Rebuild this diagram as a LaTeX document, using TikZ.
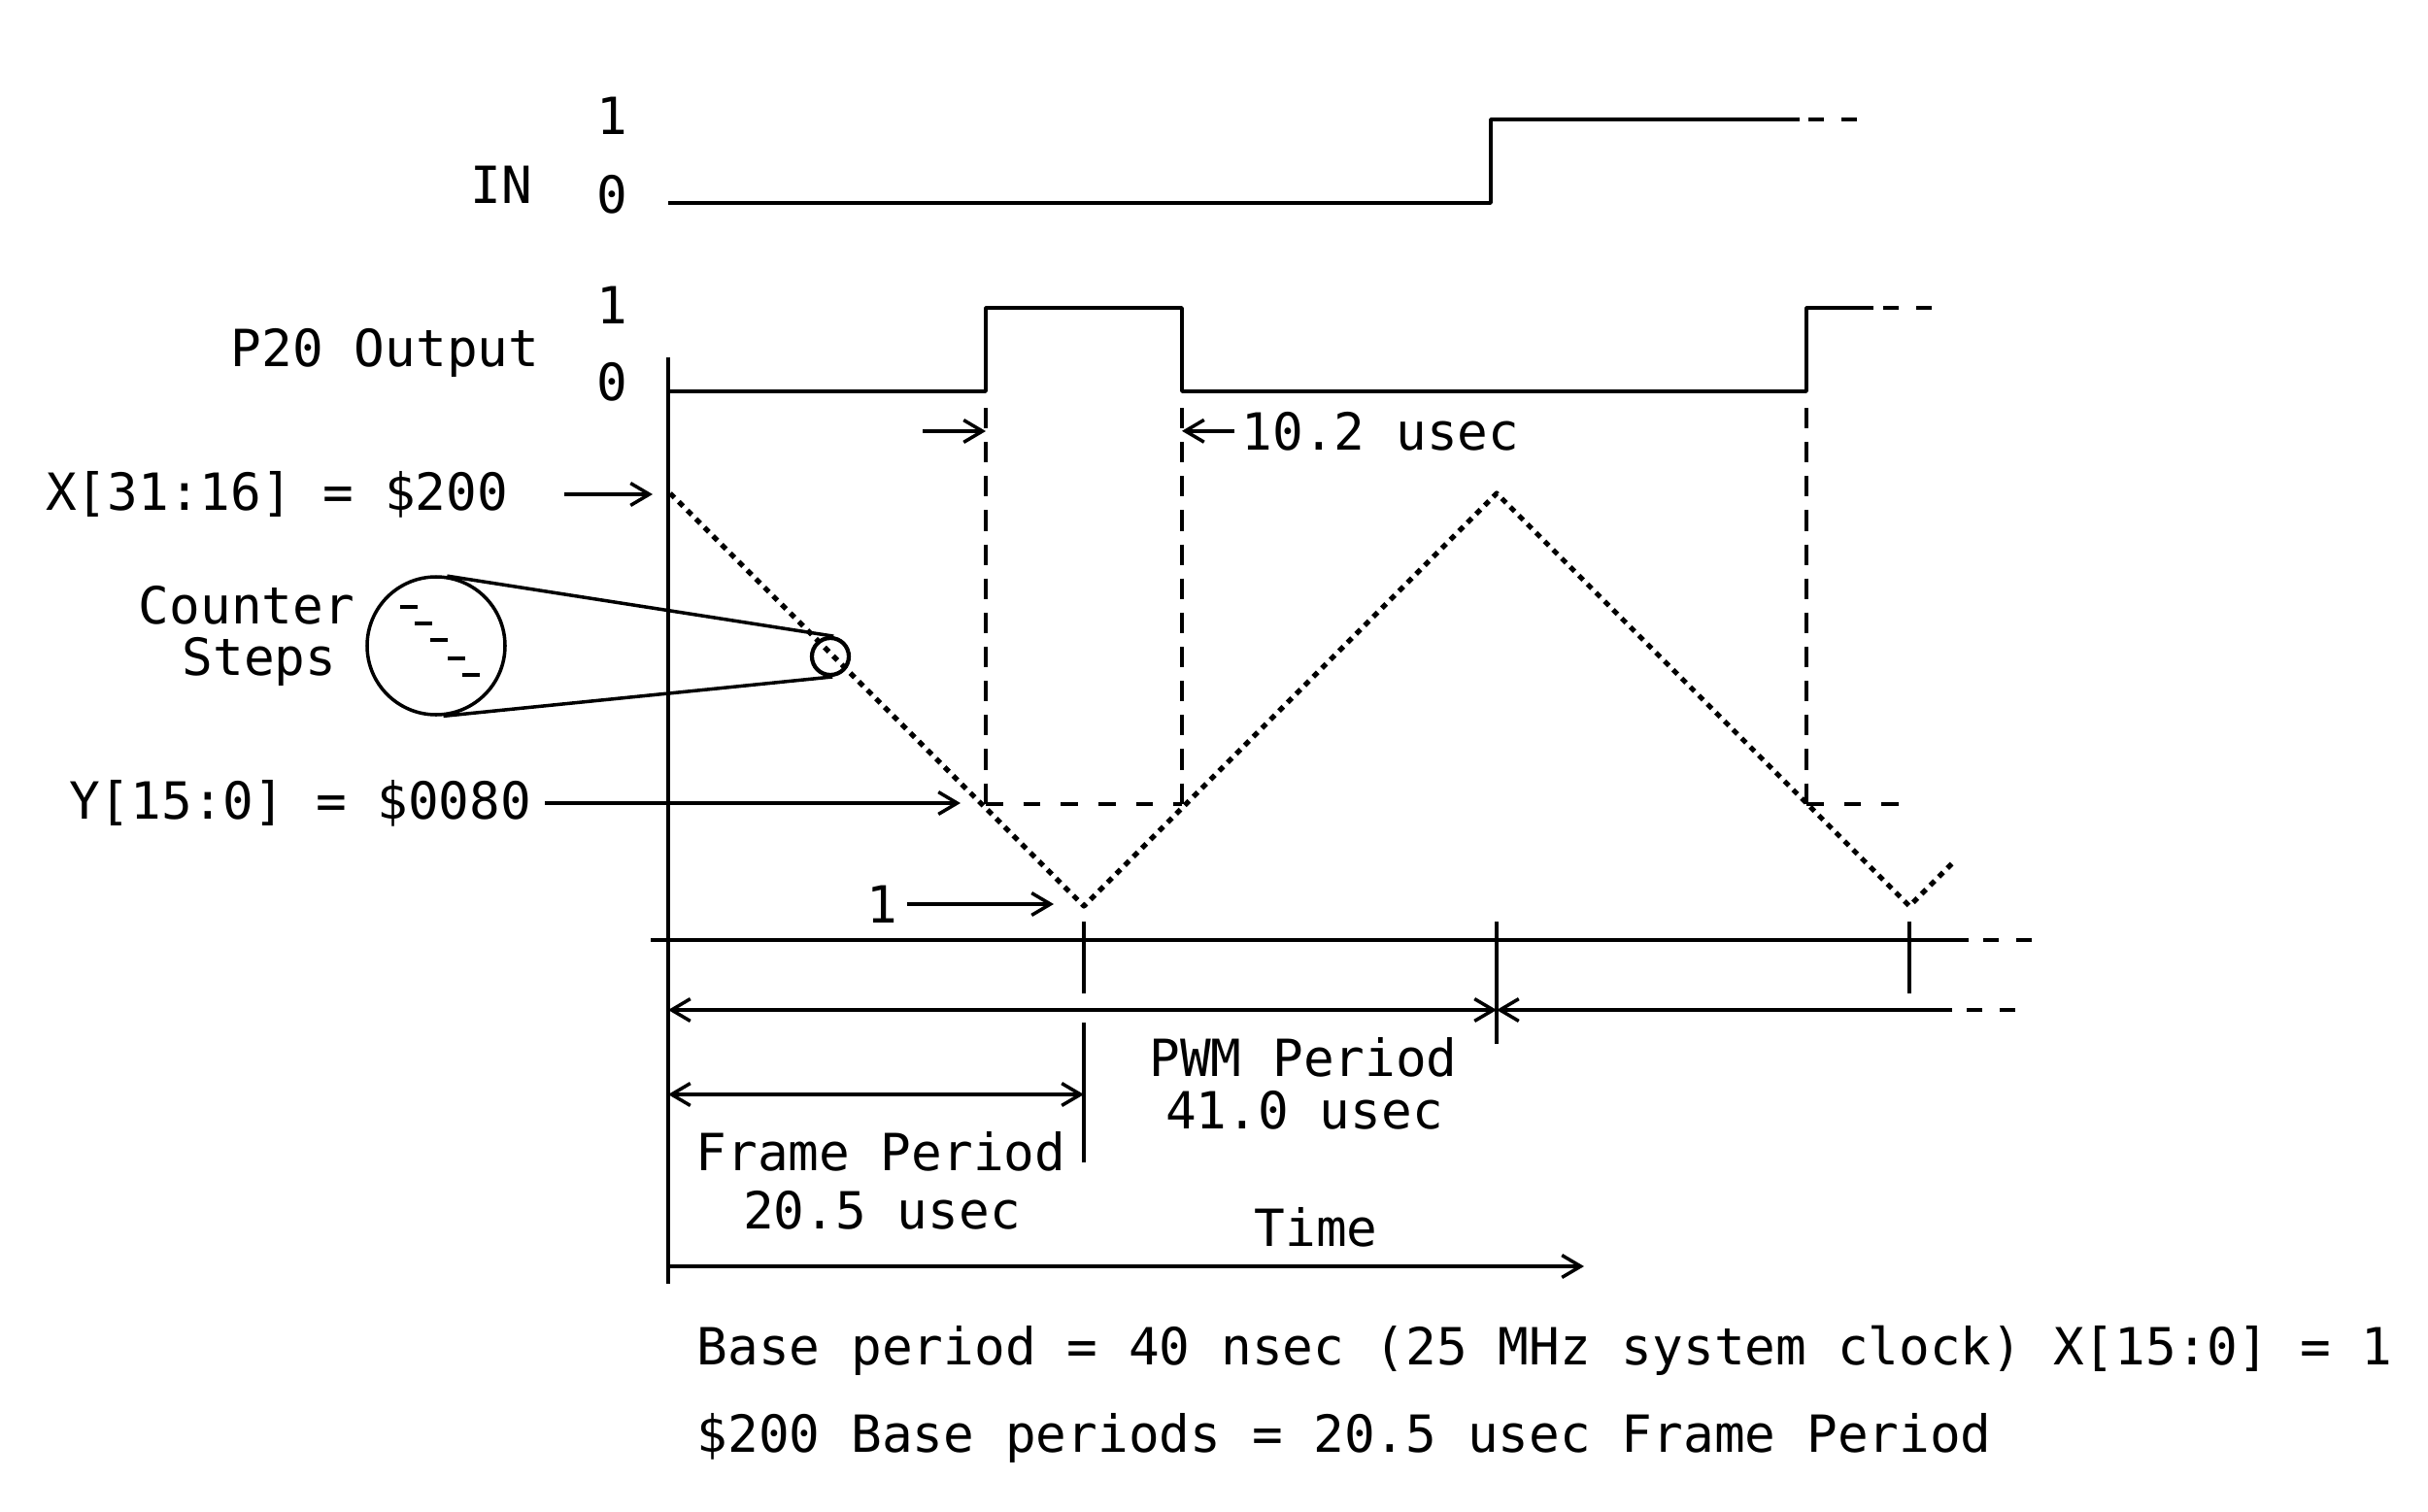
\documentclass[tikz,border=0pt]{standalone}
\usepackage{fontspec}
\newfontfamily\plotter{DejaVu Sans Mono}
\usetikzlibrary{arrows.meta}

\begin{document}
\begin{tikzpicture}[>={Straight Barb[length=5.5pt,width=6.5pt]},line join=round,line width=1pt,
    font=\plotter\fontsize{15}{17}\selectfont,
    txt/.style={inner sep=0pt},
    guide/.style={dash pattern=on 6pt off 4pt},
    level/.style={dash pattern=on 5pt off 6pt},
    tail/.style={dash pattern=on 4.6pt off 5pt},
    counter/.style={line width=1.5pt,dash pattern=on 1.8pt off 1.75pt}]
  \useasboundingbox (0,0) rectangle (25,-15.56);
  % key instants
  \coordinate (R1) at (10.15,-4.03);
  \coordinate (F1) at (12.17,-4.03);
  \coordinate (R2) at (18.60,-4.03);
  \coordinate (T0) at (6.90,-5.08);
  \coordinate (B1) at (11.16,-9.33);
  \coordinate (T1) at (15.41,-5.08);
  \coordinate (B2) at (19.66,-9.33);
  % IN
  \node[txt,anchor=base east] (inlbl) at (5.50,-2.10) {IN};
  \node[txt,anchor=base] (in1) at (6.30,-1.39) {1};
  \node[txt,anchor=base] (in0) at (6.30,-2.19) {0};
  \coordinate (INl) at (6.88,-2.09);
  \coordinate (INr) at (15.35,-2.09);
  \coordinate (INh) at (18.53,-1.23);
  \draw (INl) -- (INr) |- (INh);
  \draw[tail] (18.62,-1.23) -- (19.14,-1.23);
  % P20 output
  \node[txt,anchor=base east] (p20lbl) at (5.57,-3.77) {P20 Output};
  \node[txt,anchor=base] (p1) at (6.30,-3.33) {1};
  \node[txt,anchor=base] (p0) at (6.30,-4.12) {0};
  \draw (6.88,-4.03) -- (R1) -- ++(0,0.86) -| (F1) -- (R2) -- ++(0,0.86) -- ++(0.69,0);
  \draw[tail] (19.39,-3.17) -- (19.93,-3.17);
  % vertical axis
  \draw (6.88,-3.68) -- (6.88,-13.22);
  % counter ramp
  \draw[counter] (T0) -- (B1) -- (T1) -- (B2) -- ++(0.44,0.44);
  % compare level
  \draw[guide] (10.15,-4.20) -- (10.15,-8.28);
  \draw[guide] (12.17,-4.20) -- (12.17,-8.28);
  \draw[guide] (18.60,-4.20) -- (18.60,-8.28);
  \draw[level] (10.15,-8.28) -- (12.17,-8.28);
  \draw[level] (18.60,-8.28) -- (19.69,-8.28);
  % high time
  \node[txt,anchor=base west] (t102) at (12.77,-4.63) {10.2 usec};
  \coordinate (lead) at (9.50,-4.44);
  \draw[->] (lead) -- (lead -| R1);
  \draw[->] ([xshift=-0.06cm]t102.west) -- (t102.west -| F1);
  % register labels
  \node[txt,anchor=east] (xlbl) at (5.25,-5.09) {X[31:16] = \$200};
  \coordinate (xtip) at (6.72,-5.09);
  \draw[->] ([xshift=0.56cm]xlbl.east) -- (xtip);
  \node[txt,anchor=east] (ylbl) at (5.49,-8.27) {Y[15:0] = \$0080};
  \coordinate (ytip) at (9.89,-8.27);
  \draw[->] ([xshift=0.12cm]ylbl.east) -- (ytip);
  \node[txt] (onelbl) at (9.08,-9.31) {1};
  \coordinate (onetip) at (10.85,-9.31);
  \draw[->] ([xshift=0.08cm]onelbl.east) -- (onetip);
  % counter steps magnifier
  \node[txt,anchor=base] (cnt) at (2.54,-6.42) {Counter};
  \node[txt,anchor=base] (stp) at (2.67,-6.95) {Steps};
  \node[circle,draw,minimum size=1.42cm,inner sep=0pt] (lens) at (4.49,-6.65) {};
  \node[circle,draw,line width=1.2pt,minimum size=0.38cm,inner sep=0pt] (spot) at (8.55,-6.76) {};
  \draw (lens.81) -- (spot.81);
  \draw (lens.-84) -- (spot.-84);
  \draw[line width=0.9pt] (4.12,-6.25) -- ++(0.18,0) (4.27,-6.42) -- ++(0.18,0)
    (4.43,-6.59) -- ++(0.18,0) (4.61,-6.78) -- ++(0.18,0) (4.76,-6.95) -- ++(0.18,0);
  % time axis
  \draw (6.70,-9.68) -- (20.27,-9.68);
  \draw[tail] (20.42,-9.68) -- (20.98,-9.68);
  \draw (B1) ++(0,-0.16) -- ++(0,-0.74);
  \draw (B2) ++(0,-0.16) -- ++(0,-0.74);
  \draw (T1 |- 0,-9.49) -- (T1 |- 0,-10.75);
  \draw (B1 |- 0,-10.53) -- (B1 |- 0,-11.97);
  % periods
  \coordinate (pwmL) at (6.88,-10.40);
  \coordinate (pwmM) at (15.41,-10.40);
  \draw[<->] (pwmL) -- (pwmM);
  \draw[<-] (pwmM) -- (20.10,-10.40);
  \draw[tail] (20.25,-10.40) -- (20.80,-10.40);
  \draw[<->] (6.88,-11.27) -- (11.16,-11.27);
  \draw[->] (6.88,-13.04) -- (16.31,-13.04);
  \node[txt,anchor=base] (pwm) at (13.42,-11.08) {PWM Period};
  \node[txt,anchor=base] (pwmv) at (13.43,-11.62) {41.0 usec};
  \node[txt,anchor=base] (frm) at (9.07,-12.05) {Frame Period};
  \node[txt,anchor=base] (frmv) at (9.08,-12.65) {20.5 usec};
  \node[txt,anchor=base] (time) at (13.55,-12.83) {Time};
  % notes
  \node[txt,anchor=base west] (note1) at (7.16,-14.05) {Base period = 40 nsec (25 MHz system clock) X[15:0] = 1};
  \node[txt,anchor=base west] (note2) at (7.16,-14.95) {\$200 Base periods = 20.5 usec Frame Period};
\end{tikzpicture}
\end{document}
